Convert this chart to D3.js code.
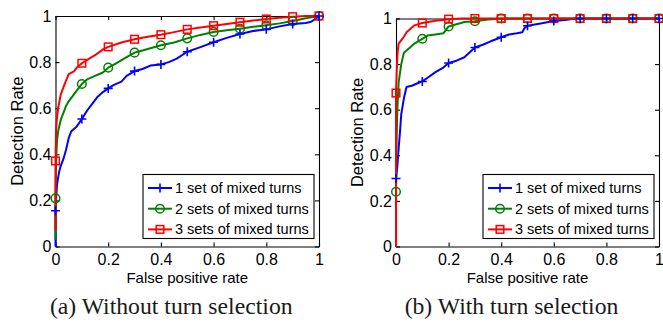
<!DOCTYPE html>
<html>
<head>
<meta charset="utf-8">
<script src="https://cdn.jsdelivr.net/npm/d3@7"></script>
<style>
  body { margin: 0; background: #fff; }
  svg { display: block; }
  .tick text { font-family: "Liberation Sans", Arial, sans-serif; font-size: 16px; fill: #000; }
  .lbl { font-family: "Liberation Sans", Arial, sans-serif; font-size: 15px; fill: #000; }
  .ylbl { font-family: "Liberation Sans", Arial, sans-serif; font-size: 16.5px; fill: #000; }
  .cap { font-family: "Liberation Serif", "Times New Roman", serif; font-size: 23.7px; fill: #1a1a1a; }
  .leg { font-family: "Liberation Sans", Arial, sans-serif; font-size: 14.5px; fill: #000; }
</style>
</head>
<body>
<svg id="chart" width="663" height="322"></svg>
<script>
// ---- data ----
const tickVals = [0, 0.2, 0.4, 0.6, 0.8, 1];
const seriesNames = ["1 set of mixed turns", "2 sets of mixed turns", "3 sets of mixed turns"];
const captions = ["(a) Without turn selection", "(b) With turn selection"];
const markerFpr = [0, 0.1, 0.2, 0.3, 0.4, 0.5, 0.6, 0.7, 0.8, 0.9, 1];

// (a) without turn selection: ROC curves [fpr, tpr]
const aOneSet = [[0,0],[0,0.16],[0.003,0.22],[0.006,0.27],[0.01,0.30],[0.015,0.33],[0.02,0.35],[0.03,0.38],
  [0.04,0.42],[0.05,0.47],[0.06,0.50],[0.08,0.52],[0.1,0.553],[0.12,0.59],[0.14,0.62],[0.16,0.65],[0.18,0.67],
  [0.2,0.686],[0.22,0.70],[0.25,0.715],[0.27,0.74],[0.3,0.761],[0.33,0.77],[0.36,0.785],[0.4,0.79],[0.43,0.80],
  [0.46,0.815],[0.5,0.845],[0.55,0.865],[0.6,0.886],[0.65,0.905],[0.7,0.922],[0.75,0.935],[0.8,0.942],
  [0.85,0.955],[0.9,0.965],[0.95,0.97],[0.97,0.975],[0.99,0.99],[1,1]];
const aTwoSets = [[0,0.03],[0,0.209],[0.002,0.35],[0.004,0.42],[0.006,0.46],[0.01,0.50],[0.02,0.55],[0.03,0.58],
  [0.04,0.61],[0.05,0.63],[0.07,0.66],[0.09,0.69],[0.1,0.705],[0.12,0.725],[0.15,0.74],[0.18,0.755],[0.2,0.776],
  [0.23,0.795],[0.26,0.815],[0.3,0.841],[0.33,0.85],[0.36,0.86],[0.4,0.873],[0.45,0.885],[0.5,0.903],
  [0.55,0.918],[0.6,0.931],[0.65,0.938],[0.7,0.945],[0.75,0.953],[0.8,0.96],[0.85,0.968],[0.9,0.978],
  [0.95,0.99],[1,1]];
const aThreeSets = [[0,0.07],[0,0.371],[0.002,0.50],[0.005,0.55],[0.01,0.60],[0.015,0.63],[0.02,0.66],[0.03,0.69],
  [0.04,0.72],[0.05,0.748],[0.07,0.76],[0.08,0.775],[0.1,0.795],[0.12,0.81],[0.15,0.83],[0.18,0.855],[0.2,0.866],
  [0.25,0.885],[0.3,0.899],[0.35,0.91],[0.4,0.919],[0.45,0.93],[0.5,0.942],[0.55,0.95],[0.6,0.958],[0.65,0.965],
  [0.7,0.973],[0.75,0.98],[0.8,0.987],[0.85,0.992],[0.9,0.997],[0.95,1],[1,1]];
const aOneSetMarks   = [0.155, 0.553, 0.686, 0.761, 0.79, 0.845, 0.886, 0.922, 0.942, 0.965, 1];
const aTwoSetsMarks  = [0.209, 0.705, 0.776, 0.841, 0.873, 0.903, 0.931, 0.945, 0.96, 0.978, 1];
const aThreeSetsMarks = [0.371, 0.795, 0.866, 0.899, 0.919, 0.942, 0.958, 0.973, 0.987, 0.997, 1];

// (b) with turn selection
const bOneSet = [[0,0],[0,0.298],[0.005,0.35],[0.01,0.43],[0.015,0.50],[0.02,0.58],[0.03,0.65],[0.04,0.70],
  [0.06,0.705],[0.08,0.715],[0.1,0.724],[0.12,0.74],[0.15,0.765],[0.18,0.785],[0.2,0.805],[0.23,0.815],
  [0.26,0.83],[0.3,0.873],[0.33,0.885],[0.36,0.9],[0.4,0.918],[0.43,0.93],[0.46,0.935],[0.48,0.94],
  [0.49,0.96],[0.5,0.968],[0.55,0.978],[0.6,0.989],[0.65,0.995],[0.68,1],[1,1]];
const bTwoSets = [[0,0],[0,0.24],[0.002,0.45],[0.005,0.6],[0.01,0.72],[0.02,0.8],[0.03,0.85],[0.05,0.87],
  [0.07,0.89],[0.1,0.911],[0.12,0.925],[0.15,0.93],[0.18,0.935],[0.2,0.965],[0.23,0.975],[0.26,0.985],
  [0.3,0.988],[0.35,0.996],[0.4,1],[1,1]];
const bThreeSets = [[0,0],[0,0.673],[0.003,0.78],[0.006,0.85],[0.01,0.89],[0.02,0.905],[0.03,0.92],[0.04,0.94],
  [0.05,0.95],[0.07,0.97],[0.1,0.98],[0.15,0.99],[0.2,0.997],[0.25,1],[1,1]];
const bOneSetMarks   = [0.298, 0.724, 0.805, 0.873, 0.918, 0.968, 0.989, 1, 1, 1, 1];
const bTwoSetsMarks  = [0.24, 0.911, 0.965, 0.988, 1, 1, 1, 1, 1, 1, 1];
const bThreeSetsMarks = [0.673, 0.98, 0.997, 1, 1, 1, 1, 1, 1, 1, 1];

// ---- style / layout ----
const colors = ["#0000ff", "#008000", "#ff0000"];
const markerTypes = ["plus", "circle", "square"];

const panels = [
  { x0: 55.5, x1: 319, y0: 246.5, y1: 16,
    curves: [aOneSet, aTwoSets, aThreeSets], marks: [aOneSetMarks, aTwoSetsMarks, aThreeSetsMarks] },
  { x0: 396, x1: 659, y0: 246.5, y1: 18.5,
    curves: [bOneSet, bTwoSets, bThreeSets], marks: [bOneSetMarks, bTwoSetsMarks, bThreeSetsMarks] }
];

const svg = d3.select("#chart");

function drawMarker(g, type, color, cx, cy) {
  if (type === "plus") {
    g.append("path")
      .attr("d", `M${cx-4.5},${cy}H${cx+4.5}M${cx},${cy-4.5}V${cy+4.5}`)
      .attr("stroke", color).attr("stroke-width", 1.6).attr("fill", "none");
  } else if (type === "circle") {
    g.append("circle").attr("cx", cx).attr("cy", cy).attr("r", 4.3)
      .attr("stroke", color).attr("stroke-width", 1.5).attr("fill", "none");
  } else {
    g.append("rect").attr("x", cx-3.8).attr("y", cy-3.8).attr("width", 7.6).attr("height", 7.6)
      .attr("stroke", color).attr("stroke-width", 1.5).attr("fill", "none");
  }
}

const fmt = d => String(d);

panels.forEach((p, pi) => {
  const x = d3.scaleLinear().domain([0, 1]).range([p.x0, p.x1]);
  const y = d3.scaleLinear().domain([0, 1]).range([p.y0, p.y1]);
  const g = svg.append("g");

  // axes with inward ticks on all four sides
  g.append("g").attr("transform", `translate(0,${p.y0})`)
    .call(d3.axisBottom(x).tickValues(tickVals).tickFormat(fmt).tickSizeInner(-4).tickSizeOuter(0).tickPadding(7));
  g.append("g").attr("transform", `translate(${p.x0},0)`)
    .call(d3.axisLeft(y).tickValues(tickVals).tickFormat(fmt).tickSizeInner(-4).tickSizeOuter(0).tickPadding(4));
  g.append("g").attr("transform", `translate(0,${p.y1})`)
    .call(d3.axisTop(x).tickValues(tickVals).tickFormat("").tickSizeInner(-4).tickSizeOuter(0));
  g.append("g").attr("transform", `translate(${p.x1},0)`)
    .call(d3.axisRight(y).tickValues(tickVals).tickFormat("").tickSizeInner(-4).tickSizeOuter(0));
  g.selectAll(".domain, .tick line").attr("stroke", "#000").attr("stroke-width", 1.1);
  g.selectAll(".tick text").attr("font-size", null).attr("font-family", null);

  // axis labels
  g.append("text").attr("class", "lbl")
    .attr("x", (p.x0 + p.x1) / 2).attr("y", p.y0 + 36)
    .attr("text-anchor", "middle").text("False positive rate");
  g.append("text").attr("class", "ylbl")
    .attr("transform", `translate(${p.x0 - 33},${(p.y0 + p.y1) / 2}) rotate(-90)`)
    .attr("text-anchor", "middle").text("Detection Rate");

  // curves
  const line = d3.line().x(d => x(d[0])).y(d => y(d[1]));
  p.curves.forEach((c, i) => {
    g.append("path").datum(c).attr("d", line)
      .attr("fill", "none").attr("stroke", colors[i]).attr("stroke-width", 2)
      .attr("stroke-linejoin", "round");
  });
  // markers
  [1, 2, 0].forEach(i => {
    p.marks[i].forEach((v, k) => drawMarker(g, markerTypes[i], colors[i], x(markerFpr[k]), y(v)));
  });

  // legend
  const lw = 171, lh = 64;
  const lx = p.x1 - 5 - lw, ly = p.y0 - 8 - lh;
  const leg = g.append("g").attr("transform", `translate(${lx},${ly})`);
  leg.append("rect").attr("width", lw).attr("height", lh)
    .attr("fill", "#fff").attr("stroke", "#000").attr("stroke-width", 1.1);
  seriesNames.forEach((name, i) => {
    const ry = 13.5 + i * 20.7;
    leg.append("line").attr("x1", 5).attr("x2", 29).attr("y1", ry).attr("y2", ry)
      .attr("stroke", colors[i]).attr("stroke-width", 2);
    drawMarker(leg, markerTypes[i], colors[i], 17, ry);
    leg.append("text").attr("class", "leg").attr("x", 32).attr("y", ry + 5).text(name);
  });

  // caption
  g.append("text").attr("class", "cap")
    .attr("x", (p.x0 + p.x1) / 2 - 16).attr("y", 314)
    .attr("text-anchor", "middle").text(captions[pi]);
});
</script>
</body>
</html>
